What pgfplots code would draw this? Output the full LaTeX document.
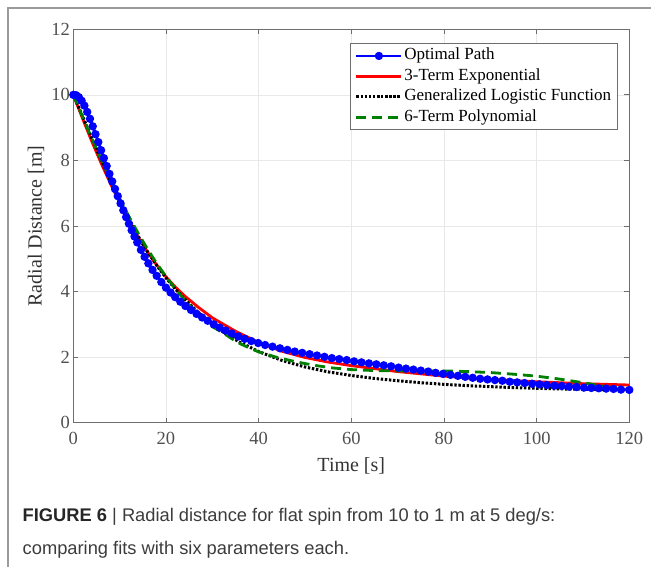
\documentclass[border=0pt]{standalone}
\usepackage{pgfplots}
\pgfplotsset{compat=1.18}
\usepackage{fontspec}
\setmainfont{Liberation Serif}
\newfontfamily\capfont{Liberation Sans}
\definecolor{mblue}{RGB}{0,0,255}
\definecolor{mred}{RGB}{255,0,0}
\definecolor{mgreen}{RGB}{0,128,0}
\definecolor{axgray}{RGB}{110,110,110}
\definecolor{tickgray}{RGB}{80,80,80}
\definecolor{capgray}{RGB}{60,60,60}
\definecolor{framegray}{RGB}{155,155,155}
\begin{document}
\begin{tikzpicture}
\useasboundingbox (0pt,0pt) rectangle (651pt,566pt);
\draw[framegray, line width=1.4pt] (8pt,-2pt) -- (8pt,558pt) -- (660pt,558pt);
\begin{axis}[
  at={(73.3pt,143.3pt)}, anchor=south west,
  scale only axis, width=556pt, height=393.4pt,
  xmin=0, xmax=120, ymin=0, ymax=12,
  xtick={0,20,...,120}, ytick={0,2,...,12},
  /pgf/number format/assume math mode=true,
  grid=major, grid style={gray!18, line width=0.7pt},
  axis line style={axgray, line width=0.9pt},
  major tick style={axgray, line width=0.9pt},
  tick align=inside, major tick length=5pt,
  ticklabel style={font=\fontsize{18.5}{18.5}\selectfont, text=tickgray},
  xticklabel style={yshift=-6pt},
  xlabel={Time [s]}, ylabel={Radial Distance [m]},
  label style={font=\fontsize{20}{20}\selectfont, text=black!80},
  xlabel style={at={(axis description cs:0.5,-0.110)}, anchor=center},
  ylabel style={at={(axis description cs:-0.0671,0.5)}, anchor=center},
  legend cell align=left,
  legend style={at={(axis description cs:0.4977,0.9644)}, anchor=north west,
    font=\fontsize{17}{17}\selectfont, draw=axgray, line width=0.8pt,
    inner xsep=4.5pt, inner ysep=2pt, row sep=0pt,
    nodes={inner xsep=1.5pt, inner ysep=0pt, text height=14pt, text depth=6.5pt}},
  legend image code/.code={\draw[#1] plot coordinates {(0pt,0pt) (22.5pt,0pt) (45pt,0pt)};},
]
\addplot[forget plot, mblue, line width=2.6pt, mark=*, mark size=2.8pt, mark options={solid, fill=mblue}] coordinates {
(0,10.00) (0.6,9.99) (1.2,9.93) (1.8,9.82) (2.4,9.67) (3.0,9.48) (3.6,9.27) (4.2,9.04)
(4.8,8.80) (5.4,8.56) (6.0,8.31) (6.6,8.07) (7.2,7.83) (7.8,7.59) (8.4,7.36) (9.0,7.13)
(9.6,6.91) (10.2,6.69) (10.8,6.48) (11.4,6.27) (12.0,6.07) (12.6,5.87) (13.2,5.68) (13.8,5.50)
(14.6,5.27) (15.4,5.06) (16.2,4.86) (17.1,4.66) (18.0,4.48) (19.0,4.29) (20.0,4.12) (21.0,3.97)
(22.0,3.83) (23.1,3.69) (24.2,3.56) (25.4,3.44) (26.6,3.32) (27.8,3.21) (29.0,3.11) (30.3,3.00)
(31.6,2.90) (32.9,2.81) (34.2,2.72) (35.6,2.63) (37.0,2.56) (38.4,2.49) (39.9,2.43) (41.4,2.37)
(43.0,2.32) (44.6,2.27) (46.2,2.22) (47.8,2.17) (49.4,2.13) (51.0,2.09) (52.6,2.05) (54.2,2.01)
(55.8,1.97) (57.4,1.94) (59.0,1.91) (60.6,1.87) (62.2,1.84) (63.8,1.81) (65.4,1.78) (67.0,1.75)
(68.6,1.72) (70.2,1.68) (71.8,1.65) (73.4,1.62) (75.0,1.59) (76.6,1.56) (78.2,1.52) (79.8,1.49)
(81.4,1.46) (83.0,1.43) (84.6,1.40) (86.2,1.37) (87.8,1.34) (89.4,1.32) (91.0,1.30) (92.6,1.28)
(94.2,1.25) (95.8,1.23) (97.4,1.21) (99.0,1.19) (100.6,1.17) (102.2,1.15) (103.8,1.13) (105.4,1.12)
(107.0,1.10) (108.6,1.09) (110.2,1.07) (111.8,1.06) (113.4,1.05) (115.0,1.04) (116.6,1.03) (118.2,1.01)
(120.0,1.00)};
\addplot[forget plot, mred, line width=2.8pt] coordinates {
(0,10.00) (2,9.28) (4,8.58) (6,7.92) (8,7.30) (10,6.71) (12,6.16) (14,5.66)
(16,5.21) (18,4.81) (20,4.45) (22,4.14) (24,3.87) (27,3.52) (30,3.20) (35,2.79)
(40,2.45) (45,2.18) (50,1.99) (55,1.85) (60,1.74) (70,1.56) (80,1.42) (90,1.32)
(100,1.25) (110,1.19) (120,1.15)};
\addplot[forget plot, black, line width=3pt, dash pattern=on 2.4pt off 1.7pt] coordinates {
(0,10.00) (2,9.35) (4,8.68) (6,8.02) (8,7.38) (10,6.78) (12,6.21) (14,5.69)
(16,5.22) (18,4.80) (20,4.42) (22,4.08) (24,3.77) (27,3.36) (30,3.00) (33,2.70)
(36,2.45) (40,2.17) (45,1.90) (50,1.70) (55,1.55) (60,1.44) (65,1.35) (70,1.28)
(75,1.22) (80,1.17) (85,1.13) (90,1.10) (95,1.07) (100,1.05) (105,1.03) (110,1.02)
(115,1.01) (120,1.00)};
\addplot[forget plot, mgreen, line width=2.8pt, dash pattern=on 10pt off 6pt] coordinates {
(0,10.00) (2,9.33) (4,8.67) (6,8.03) (8,7.42) (10,6.84) (12,6.29) (14,5.78)
(16,5.30) (18,4.86) (20,4.46) (22,4.09) (24,3.75) (27,3.30) (30,2.93) (32,2.77)
(34,2.58) (36,2.41) (38,2.28) (40,2.16) (44,1.99) (48,1.86) (52,1.75) (56,1.67)
(60,1.62) (65,1.59) (70,1.58) (75,1.58) (80,1.58) (85,1.56) (90,1.53) (95,1.48)
(100,1.42) (105,1.33) (110,1.22) (115,1.10) (120,1.00)};
\addlegendimage{mblue, line width=2.6pt, mark=*, mark size=2.8pt, mark repeat=2, mark phase=2, mark options={solid, fill=mblue}}
\addlegendentry{Optimal Path}
\addlegendimage{mred, line width=2.8pt}
\addlegendentry{3-Term Exponential}
\addlegendimage{black, line width=3pt, dash pattern=on 2.4pt off 1.7pt}
\addlegendentry{Generalized Logistic Function\hspace{11pt}}
\addlegendimage{mgreen, line width=2.8pt, dash pattern=on 10pt off 6pt}
\addlegendentry{6-Term Polynomial}
\end{axis}
\node[anchor=base west, inner sep=0pt, text=capgray, font=\capfont\fontsize{18.3}{18.3}\selectfont] at (22.5pt,45pt)
  {\textbf{\color{black!85}FIGURE 6} | Radial distance for flat spin from 10 to 1 m at 5 deg/s:};
\node[anchor=base west, inner sep=0pt, text=capgray, font=\capfont\fontsize{18.3}{18.3}\selectfont] at (22.5pt,12pt)
  {comparing fits with six parameters each.};
\end{tikzpicture}
\end{document}
